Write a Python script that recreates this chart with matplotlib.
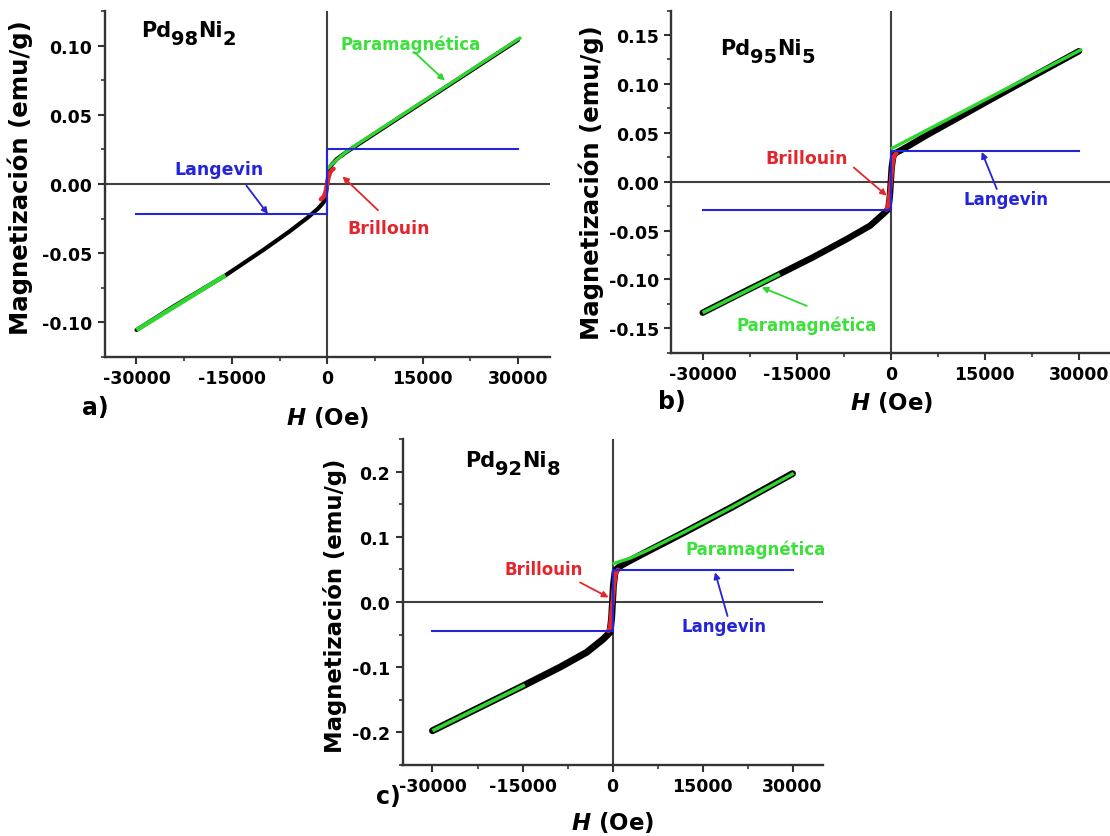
import matplotlib
matplotlib.use("Agg")
import matplotlib.pyplot as plt
from matplotlib.ticker import MultipleLocator, FormatStrFormatter

plt.rcParams.update({
    "font.family": "DejaVu Sans",
    "font.weight": "bold",
    "axes.unicode_minus": False,
    "mathtext.fontset": "custom",
    "mathtext.rm": "DejaVu Sans:bold",
    "mathtext.it": "DejaVu Sans:italic:bold",
    "mathtext.bf": "DejaVu Sans:bold",
})

W, H = 1110, 837

# ---------------- data: Pd98Ni2 ----------------
a_H = [-30000, -24000, -16000, -10000, -6000, -3000, -1500, -700, -300, 0,
       300, 700, 1500, 3000, 6000, 10000, 16000, 24000, 30000]
a_M = [-0.1055, -0.0880, -0.0660, -0.0475, -0.0345, -0.0240, -0.0180, -0.0140, -0.0110, 0.0,
       0.0110, 0.0140, 0.0180, 0.0230, 0.0320, 0.0440, 0.0620, 0.0860, 0.1040]
a_para_neg_H = [-30000, -23000, -16000]
a_para_neg_M = [-0.1055, -0.0858, -0.0660]
a_para_pos_H = [0, 1000, 2000, 3000, 5000, 10000, 16000, 23000, 30500]
a_para_pos_M = [0.0110, 0.0155, 0.0195, 0.0232, 0.0295, 0.0445, 0.0625, 0.0835, 0.1060]
a_bri_H = [-1000, -800, -500, -250, 0, 250, 500, 800, 1000]
a_bri_M = [-0.0110, -0.0103, -0.0088, -0.0055, 0.0, 0.0055, 0.0088, 0.0103, 0.0110]
a_lan_H = [-30000, 0, 0, 30000]
a_lan_M = [-0.0217, -0.0217, 0.0250, 0.0250]

# ---------------- data: Pd95Ni5 ----------------
b_H = [-30000, -24000, -17700, -12400, -7000, -3300, -1200, -400, -150, 0,
       150, 400, 800, 1500, 3000, 5700, 10000, 16350, 23000, 30000]
b_M = [-0.1340, -0.1145, -0.0944, -0.0773, -0.0586, -0.0450, -0.0330, -0.0280, -0.0150, 0.0,
       0.0150, 0.0260, 0.0295, 0.0318, 0.0372, 0.0475, 0.0628, 0.0855, 0.1090, 0.1335]
b_para_neg_H = [-30000, -23800, -17700]
b_para_neg_M = [-0.1340, -0.1142, -0.0944]
b_para_pos_H = [0, 30500]
b_para_pos_M = [0.0335, 0.1355]
b_bri_H = [-700, -500, -300, -100, 100, 300, 500, 700, 900]
b_bri_M = [-0.0285, -0.0255, -0.0190, -0.0070, 0.0070, 0.0190, 0.0255, 0.0280, 0.0290]
b_lan_H = [-30000, 0, 0, 30000]
b_lan_M = [-0.0285, -0.0285, 0.0315, 0.0315]

# ---------------- data: Pd92Ni8 ----------------
c_H = [-30000, -22000, -14600, -8750, -4300, -1530, -420, -150, 0,
       150, 420, 700, 1500, 3000, 6000, 12000, 20000, 30000]
c_M = [-0.1975, -0.1610, -0.1273, -0.1000, -0.0772, -0.0568, -0.0465, -0.0250, 0.0,
       0.0250, 0.0460, 0.0505, 0.0565, 0.0640, 0.0785, 0.1070, 0.1460, 0.1970]
c_para_neg_H = [-30000, -22300, -14600]
c_para_neg_M = [-0.1975, -0.1624, -0.1273]
c_para_pos_H = [0, 1000, 3000, 6000, 12000, 20000, 30200]
c_para_pos_M = [0.0585, 0.0615, 0.0675, 0.0800, 0.1075, 0.1460, 0.1975]
c_bri_H = [-700, -450, -250, 0, 250, 450, 700, 900]
c_bri_M = [-0.0445, -0.0400, -0.0250, 0.0, 0.0250, 0.0400, 0.0470, 0.0495]
c_lan_H = [-30000, 0, 0, 30000]
c_lan_M = [-0.0450, -0.0450, 0.0487, 0.0487]

x_ticks = [-30000, -15000, 0, 15000, 30000]

GREEN = "#2fd62f"
GREEN_TXT = "#3be03b"
BLUE = "#2424d8"
RED = "#e3262b"
AXC = "#333333"


def rect(left, right, top, bottom):
    return [left / W, 1 - bottom / H, (right - left) / W, (bottom - top) / H]


fig = plt.figure(figsize=(W / 100, H / 100), dpi=100, facecolor="white")


def setup(ax, ylim, ymaj, ymin, yfmt):
    ax.set_xlim(-35000, 35000)
    ax.set_ylim(*ylim)
    for s in ("top", "right"):
        ax.spines[s].set_visible(False)
    for s in ("left", "bottom"):
        ax.spines[s].set_color(AXC)
        ax.spines[s].set_linewidth(1.7)
    ax.set_xticks(x_ticks)
    ax.xaxis.set_minor_locator(MultipleLocator(7500))
    ax.yaxis.set_major_locator(MultipleLocator(ymaj))
    ax.yaxis.set_minor_locator(MultipleLocator(ymin))
    ax.yaxis.set_major_formatter(FormatStrFormatter(yfmt))
    ax.xaxis.set_major_formatter(FormatStrFormatter("%d"))
    ax.tick_params(which="major", direction="out", length=5, width=1.5,
                   color=AXC, labelsize=12.5, pad=4)
    ax.tick_params(which="minor", direction="out", length=3, width=1.2, color=AXC)
    for lab in ax.get_xticklabels() + ax.get_yticklabels():
        lab.set_fontweight("bold")
    ax.axhline(0, color="#404040", lw=1.5, zorder=1)
    ax.axvline(0, color="#404040", lw=1.5, zorder=1)
    ax.patch.set_alpha(0)


def curves(ax, H_, M_, pnH, pnM, ppH, ppM, bH, bM, lH, lM, blw, glw, gplw):
    ax.plot(H_, M_, color="black", lw=blw, solid_capstyle="round", zorder=3)
    ax.plot(pnH, pnM, color=GREEN, lw=glw, solid_capstyle="butt", zorder=4)
    ax.plot(ppH, ppM, color=GREEN, lw=gplw, solid_capstyle="butt", zorder=4)
    ax.plot(bH, bM, color=RED, lw=3.2, solid_capstyle="round", zorder=5)
    ax.plot(lH, lM, color=BLUE, lw=1.5, zorder=6)


def note(ax, text, xy_text, xy_from, xy_to, color, tcolor, size):
    ax.text(*xy_text, text, color=tcolor, fontsize=size, fontweight="bold",
            ha="center", va="center", zorder=7)
    if xy_from is not None:
        ax.annotate("", xy=xy_to, xytext=xy_from,
                    arrowprops=dict(arrowstyle="-|>", color=color, lw=1.3,
                                    mutation_scale=9, shrinkA=0, shrinkB=0),
                    zorder=7)


# ---- panel a ----
ax_a = fig.add_axes(rect(104.7, 549.7, 12, 358))
setup(ax_a, (-0.125, 0.125), 0.05, 0.025, "%.2f")
curves(ax_a, a_H, a_M, a_para_neg_H, a_para_neg_M, a_para_pos_H, a_para_pos_M,
       a_bri_H, a_bri_M, a_lan_H, a_lan_M, 3.0, 3.2, 2.4)
note(ax_a, "Langevin", (-17090, 0.0108), (-12700, -0.0012), (-9330, -0.0217), BLUE, BLUE, 12.5)
note(ax_a, "Brillouin", (9670, -0.032), (8000, -0.019), (2400, 0.0055), RED, RED, 12.5)
note(ax_a, "Paramagnética", (13160, 0.1012), (13720, 0.0952), (18500, 0.0747), GREEN, GREEN_TXT, 12)

# ---- panel b ----
ax_b = fig.add_axes(rect(671.3, 1110.3, 11.6, 353.8))
setup(ax_b, (-0.175, 0.175), 0.05, 0.025, "%.2f")
curves(ax_b, b_H, b_M, b_para_neg_H, b_para_neg_M, b_para_pos_H, b_para_pos_M,
       b_bri_H, b_bri_M, b_lan_H, b_lan_M, 4.6, 2.6, 2.4)
note(ax_b, "Brillouin", (-13400, 0.024), (-5900, 0.0145), (-650, -0.0143), RED, RED, 12.5)
note(ax_b, "Langevin", (18350, -0.0178), (16900, -0.0075), (14500, 0.0305), BLUE, BLUE, 12)
note(ax_b, "Paramagnética", (-13400, -0.1462), (-13400, -0.127), (-20600, -0.108), GREEN, GREEN_TXT, 12)

# ---- panel c ----
ax_c = fig.add_axes(rect(402.5, 822.5, 440.1, 765.9))
setup(ax_c, (-0.25, 0.25), 0.1, 0.05, "%.1f")
curves(ax_c, c_H, c_M, c_para_neg_H, c_para_neg_M, c_para_pos_H, c_para_pos_M,
       c_bri_H, c_bri_M, c_lan_H, c_lan_M, 5.0, 2.6, 2.4)
note(ax_c, "Brillouin", (-11490, 0.0503), (-5400, 0.030), (-650, 0.007), RED, RED, 12)
note(ax_c, "Langevin", (18570, -0.037), (19170, -0.0215), (17090, 0.0455), BLUE, BLUE, 12)
note(ax_c, "Paramagnética", (23930, 0.081), None, None, GREEN, GREEN_TXT, 12)

# ---- labels placed in figure pixels ----
def ftext(x, y, s, **kw):
    return fig.text(x / W, 1 - y / H, s, **kw)


for (x, y, fs) in [(20.5, 177.5, 17.6), (591, 182.4, 17.6), (334.6, 605.5, 16.4)]:
    ftext(x, y, "Magnetización (emu/g)", rotation=90, ha="center", va="center",
          fontsize=fs, fontweight="bold")

for (x, y) in [(328, 418), (892, 403), (613, 823)]:
    ftext(x, y, r"$H$ (Oe)", ha="center", va="center", fontsize=16.5, fontweight="bold")

for (x, y, s) in [(95, 408, "a)"), (672, 402, "b)"), (388, 797, "c)")]:
    ftext(x, y, s, ha="center", va="center", fontsize=17, fontweight="bold")

# sample names with enlarged subscripts
renderer = fig.canvas.get_renderer()


def formula(x, y, runs):
    cur = x
    for s, sub in runs:
        size = 14 if sub else 15
        yy = y + (8 if sub else 0)
        t = ftext(cur, yy, s, ha="left", va="baseline", fontsize=size, fontweight="bold")
        bb = t.get_window_extent(renderer)
        cur = bb.x1


formula(141, 37, [("Pd", False), ("98", True), ("Ni", False), ("2", True)])
formula(720, 55, [("Pd", False), ("95", True), ("Ni", False), ("5", True)])
formula(465, 467, [("Pd", False), ("92", True), ("Ni", False), ("8", True)])

fig.savefig("out.png", dpi=100, facecolor="white")
